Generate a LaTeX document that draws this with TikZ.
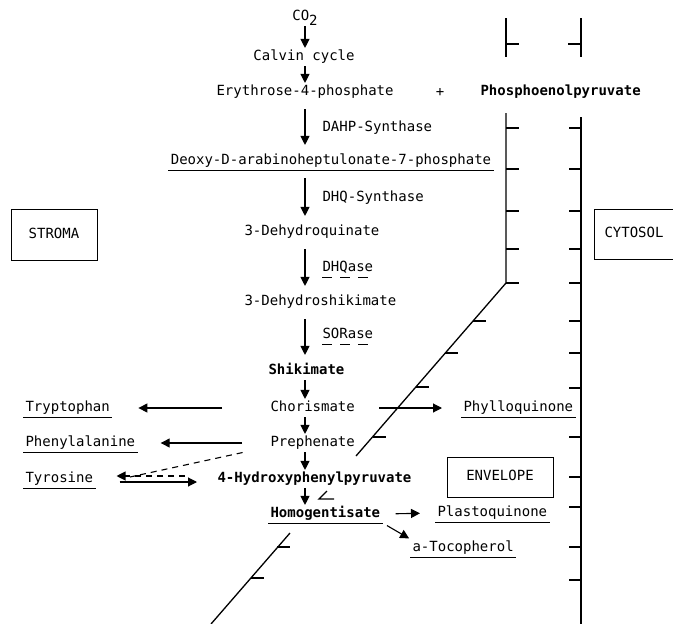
\documentclass[tikz,border=0pt]{standalone}
\usepackage{fontspec}
\setmonofont{DejaVu Sans Mono}
\usetikzlibrary{arrows.meta}

\begin{document}
\begin{tikzpicture}[x=1pt, y=-1pt,
				>={Triangle[length=9pt,width=9pt]},   % filled arrow heads
				line width=1.1pt,
				cpd/.style={inner sep=2pt, text height=10pt, text depth=3pt, font=\fontsize{14}{16}\selectfont\ttfamily},
				bcpd/.style={cpd, font=\fontsize{14}{16}\selectfont\ttfamily\bfseries},
				enz/.style={cpd, anchor=west},
				region/.style={cpd, draw, line width=1pt},
				membrane/.style={line width=1.3pt},
				uline/.style={line width=1pt},
				dashline/.style={dash pattern=on 6pt off 5pt}]
				\useasboundingbox (0,0) rectangle (673,624);
				% column of the main pathway
				\coordinate (col) at (305,0);
				\node[cpd] (co2) at (305,17) {CO\raisebox{-5pt}{2}};
				\node[cpd] (calvin) at (304,57) {Calvin cycle};
				\node[cpd, anchor=west] (e4p) at (214,92) {Erythrose-4-phosphate};
				\node[cpd] (plus) at (440,93) {+};
				\node[bcpd, anchor=west] (pep) at (478,92) {Phosphoenolpyruvate};
				\node[cpd] (dahp) at (331,161) {Deoxy-D-arabinoheptulonate-7-phosphate};
				\node[cpd, anchor=west] (dhq) at (242,232) {3-Dehydroquinate};
				\node[cpd, anchor=west] (dhs) at (242,302) {3-Dehydroshikimate};
				\node[bcpd, anchor=west] (shik) at (266,371) {Shikimate};
				\node[cpd, anchor=west] (chor) at (268,408) {Chorismate};
				\node[cpd, anchor=west] (preph) at (268,443) {Prephenate};
				\node[bcpd, anchor=west] (hpp) at (215,479) {4-Hydroxyphenylpyruvate};
				\node[bcpd, anchor=west] (hga) at (268,514) {Homogentisate};
				% end products
				\node[cpd, anchor=west] (pq) at (435,513) {Plastoquinone};
				\node[cpd, anchor=west] (toco) at (410,548) {a-Tocopherol};
				\node[cpd, anchor=west] (phyl) at (461,408) {Phylloquinone};
				\node[cpd, anchor=west] (trp) at (23,408) {Tryptophan};
				\node[cpd, anchor=west] (phe) at (23,443) {Phenylalanine};
				\node[cpd, anchor=west] (tyr) at (23,479) {Tyrosine};
				% enzymes
				\node[enz] (dahps) at (320,128) {DAHP-Synthase};
				\node[enz] (dhqs) at (320,198) {DHQ-Synthase};
				\node[enz] (dhqase) at (320,268) {DHQase};
				\node[enz] (sorase) at (320,335) {SORase};
				% compartments
				\node[region, minimum width=86pt, minimum height=51pt] (stroma) at (54,234.5) {STROMA};
				\node[region, minimum width=106pt, minimum height=40pt] (env) at (500,477) {ENVELOPE};
				\node[region, anchor=west, text width=75pt, minimum height=50pt, inner xsep=10pt] (cyto) at (594,234) {CYTOSOL};
				% main arrows
				\foreach \a/\b in {co2/calvin, calvin/e4p, shik/chor, chor/preph, preph/hpp, hpp/hga}
					\draw[->] (\a.south -| col) -- (\b.north -| col);
				\foreach \a/\b in {e4p/dahp, dahp/dhq, dhq/dhs, dhs/shik}
					\draw[->, shorten <=8pt, shorten >=7pt] (\a.south -| col) -- (\b.north -| col);
				% branches
				\draw[->, shorten <=46pt, shorten >=26pt] (chor.west) -- (trp.east);
				\draw[->, shorten <=26pt, shorten >=23pt] (preph.west) -- (phe.east);
				\coordinate (fork) at (130,477);
				\draw[dashline, shorten <=26pt] ([yshift=-4pt]preph.west) -- (fork);
				\draw[dashline, ->, shorten <=30pt, shorten >=21pt] ([yshift=3pt]hpp.west) -- ([yshift=3pt]tyr.east);
				\draw[->, shorten <=24pt, shorten >=18pt] ([yshift=-3pt]tyr.east) -- ([yshift=-3pt]hpp.west);
				\draw[->, shorten <=22pt, shorten >=19pt] (chor.east) -- (phyl.west);
				\draw[->, shorten <=13pt, shorten >=15pt] (hga.east) -- (pq.west);
				\draw[->, shorten <=5pt, shorten >=1pt] (hga.south east) -- (toco.north west);
				% underlines
				\foreach \n in {dahp, trp, phe, tyr, hga, pq, toco, phyl}
					\draw[uline] (\n.south west) -- (\n.south east);
				\foreach \n in {dhqase, sorase}
					\draw[uline, dash pattern=on 10pt off 8pt] ([xshift=2pt]\n.south west) -- ++(46,0);
				% inner membrane
				\draw[membrane] (506,18) -- (506,57);
				\draw[membrane] (506,44) -- ++(13,0);
				\draw[membrane] (506,113) -- (506,283) -- (356,456);
				\draw[membrane] (327,491) -- (319,499) -- ++(15,0);
				\draw[membrane] (290,533) -- (211,624);
				\foreach \y in {128,169,211,249,283}
					\draw[membrane] (506,\y) -- ++(13,0);
				\foreach \y in {321,353,387,437,547,578}
					\draw[membrane] ({506-(\y-283)/1.155},\y) -- ++(13,0);
				% outer membrane
				\draw[membrane] (581,18) -- (581,57);
				\draw[membrane] (581,44) -- ++(-13,0);
				\draw[membrane] (581,117) -- (581,624);
				\foreach \y in {128,169,211,249,283,321,353,388,437,477,507,547,580}
					\draw[membrane] (581,\y) -- ++(-12,0);
			\end{tikzpicture}
\end{document}
